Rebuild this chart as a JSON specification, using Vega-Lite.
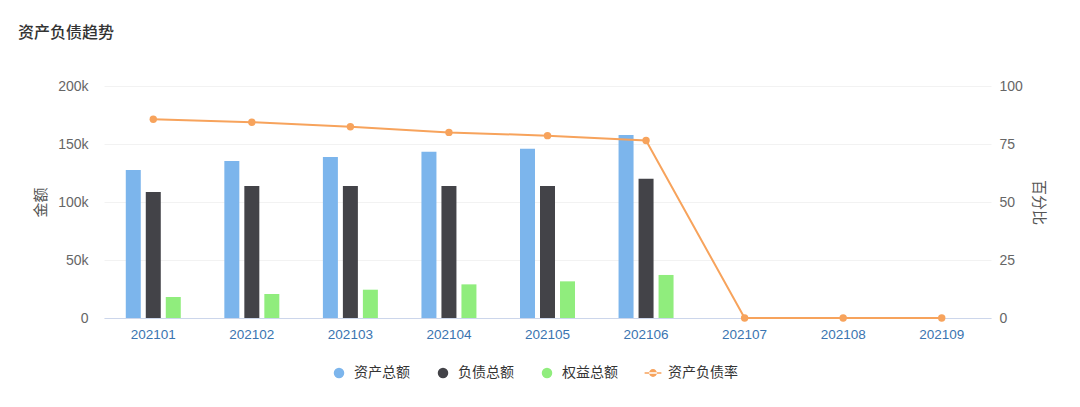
{
  "$schema": "https://vega.github.io/schema/vega-lite/v6.json",
  "width": 887,
  "height": 232,
  "autosize": {"type": "none"},
  "padding": {"left": 104, "top": 86, "right": 89, "bottom": 89},
  "background": "#ffffff",
  "title": {
    "text": "资产负债趋势",
    "anchor": "start",
    "frame": "group",
    "dx": -86,
    "offset": 38,
    "font": "Noto Sans CJK SC",
    "fontSize": 16,
    "fontWeight": 500,
    "color": "#333333"
  },
  "datasets": {
    "bars": [
      {"month": "202101", "series": "资产总额", "value": 127600},
      {"month": "202101", "series": "负债总额", "value": 108600},
      {"month": "202101", "series": "权益总额", "value": 18100},
      {"month": "202102", "series": "资产总额", "value": 135300},
      {"month": "202102", "series": "负债总额", "value": 113800},
      {"month": "202102", "series": "权益总额", "value": 20700},
      {"month": "202103", "series": "资产总额", "value": 138800},
      {"month": "202103", "series": "负债总额", "value": 113800},
      {"month": "202103", "series": "权益总额", "value": 24400},
      {"month": "202104", "series": "资产总额", "value": 143400},
      {"month": "202104", "series": "负债总额", "value": 113800},
      {"month": "202104", "series": "权益总额", "value": 29000},
      {"month": "202105", "series": "资产总额", "value": 146000},
      {"month": "202105", "series": "负债总额", "value": 113800},
      {"month": "202105", "series": "权益总额", "value": 31600},
      {"month": "202106", "series": "资产总额", "value": 157800},
      {"month": "202106", "series": "负债总额", "value": 120100},
      {"month": "202106", "series": "权益总额", "value": 37100}
    ],
    "ratio": [
      {"month": "202101", "rate": 85.7},
      {"month": "202102", "rate": 84.4},
      {"month": "202103", "rate": 82.4},
      {"month": "202104", "rate": 80.0},
      {"month": "202105", "rate": 78.6},
      {"month": "202106", "rate": 76.5},
      {"month": "202107", "rate": 0},
      {"month": "202108", "rate": 0},
      {"month": "202109", "rate": 0}
    ]
  },
  "layer": [
    {
      "data": {"name": "bars"},
      "mark": {"type": "bar"},
      "encoding": {
        "x": {
          "field": "month",
          "type": "nominal",
          "scale": {
            "domain": ["202101", "202102", "202103", "202104", "202105", "202106", "202107", "202108", "202109"],
            "paddingInner": 0.442,
            "paddingOuter": 0.221
          },
          "axis": {
            "title": null,
            "labelAngle": 0,
            "labelColor": "#3a74b0",
            "labelFontSize": 13.5,
            "labelFont": "Liberation Sans",
            "labelPadding": 9,
            "domainColor": "#ccd6eb",
            "ticks": false,
            "grid": false
          }
        },
        "xOffset": {
          "field": "series",
          "type": "nominal",
          "scale": {"domain": ["资产总额", "负债总额", "权益总额"], "paddingInner": 0.25, "paddingOuter": 0}
        },
        "y": {
          "field": "value",
          "type": "quantitative",
          "scale": {"domain": [0, 200000]},
          "axis": {
            "title": "金额",
            "values": [0, 50000, 100000, 150000, 200000],
            "labelExpr": "datum.value === 0 ? '0' : (datum.value / 1000) + 'k'",
            "grid": true,
            "gridColor": "#f2f2f2",
            "domain": false,
            "ticks": false,
            "labelColor": "#666666",
            "labelFontSize": 14,
            "labelFont": "Liberation Sans",
            "labelPadding": 16,
            "titleColor": "#555555",
            "titleFontSize": 15,
            "titleFont": "Noto Sans CJK SC",
            "titleFontWeight": "normal",
            "titlePadding": 9
          }
        },
        "color": {
          "field": "series",
          "type": "nominal",
          "scale": {
            "domain": ["资产总额", "负债总额", "权益总额", "资产负债率"],
            "range": ["#7cb5ec", "#434348", "#90ed7d", "#f7a35c"]
          },
          "legend": {
            "title": null,
            "orient": "none",
            "direction": "horizontal",
            "legendX": 228,
            "legendY": 280,
            "symbolSize": 110,
            "labelFontSize": 14,
            "labelFont": "Noto Sans CJK SC",
            "labelColor": "#333333",
            "columnPadding": 26,
            "labelOffset": 8,
            "encode": {
              "symbols": {
                "update": {
                  "shape": {"signal": "datum.value === '资产负债率' ? 'M-1.6,-0.12H1.6V0.12H-1.6Z M-0.75,0A0.75,0.75 0 1,0 0.75,0A0.75,0.75 0 1,0 -0.75,0Z' : 'circle'"},
                  "fill": {"scale": "color", "field": "value"},
                  "fillOpacity": {"value": 1},
                  "strokeWidth": {"value": 0}
                }
              }
            }
          }
        }
      }
    },
    {
      "data": {"name": "ratio"},
      "mark": {"type": "line", "strokeWidth": 2, "point": {"filled": true, "size": 55}},
      "encoding": {
        "x": {"field": "month", "type": "nominal"},
        "y": {
          "field": "rate",
          "type": "quantitative",
          "scale": {"domain": [0, 100]},
          "axis": {
            "orient": "right",
            "title": "百分比",
            "values": [0, 25, 50, 75, 100],
            "grid": false,
            "domain": false,
            "ticks": false,
            "labelColor": "#666666",
            "labelFontSize": 14,
            "labelFont": "Liberation Sans",
            "labelPadding": 8,
            "titleColor": "#555555",
            "titleFontSize": 15,
            "titleFont": "Noto Sans CJK SC",
            "titleFontWeight": "normal",
            "titlePadding": 8
          }
        },
        "color": {"datum": "资产负债率"}
      }
    }
  ],
  "resolve": {"scale": {"y": "independent"}},
  "config": {
    "view": {"stroke": null},
    "font": "Noto Sans CJK SC"
  }
}
